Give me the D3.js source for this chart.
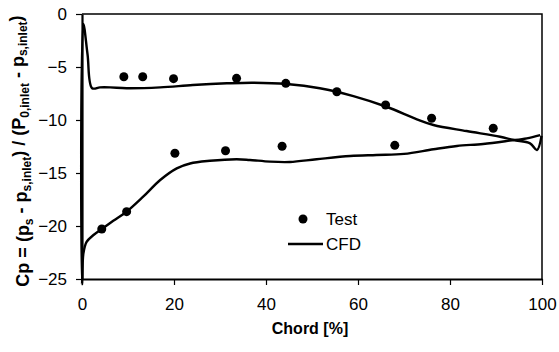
<!DOCTYPE html>
<html>
<head>
<meta charset="utf-8">
<script src="https://cdn.jsdelivr.net/npm/d3@7"></script>
<style>
  body { margin: 0; background: #fff; }
  svg { display: block; font-family: "Liberation Sans", Arial, sans-serif; }
</style>
</head>
<body>
<div id="chart"></div>
<script>
// Test data (pressure side / suction side)
const testX = [9.1, 13.2, 19.9, 33.6, 44.3, 55.4, 66.0, 76.0, 89.4,
               4.3, 9.7, 20.2, 31.2, 43.5, 68.0];
const testCp = [-5.92, -5.92, -6.1, -6.07, -6.54, -7.33, -8.58, -9.84, -10.78,
                -20.28, -18.65, -13.14, -12.9, -12.48, -12.39];

// CFD curve: trailing edge -> lower side -> leading edge -> upper side -> trailing edge
const cfdX = [99.6, 96.7, 93.0, 87.2, 81.5, 76.4, 70.0, 64.0, 58.3, 51.0, 45.2, 40.9, 36.5, 33.6,
              27.8, 23.5, 20.6, 17.0, 13.3, 9.7, 6.8, 4.3, 2.5, 1.0, 0.3, 0.0,
              0.3, 1.2, 2.2, 3.9, 6.1, 9.7, 17.0, 24.1, 31.5, 37.2, 44.5, 51.7, 59.0,
              66.2, 72.8, 76.4, 83.6, 90.9, 93.8, 97.4, 98.9, 99.9];
const cfdCp = [-11.42, -11.73, -11.95, -12.26, -12.45, -12.76, -13.2, -13.3, -13.4, -13.7, -13.96, -13.93, -13.77, -13.7,
               -13.85, -14.1, -14.56, -15.66, -17.24, -18.65, -19.5, -20.28, -20.85, -21.5, -22.6, -25.5,
               -0.94, -3.8, -7.0, -6.92, -6.92, -7.0, -6.92, -6.7, -6.54, -6.48, -6.6, -7.0, -7.74,
               -8.75, -9.93, -10.47, -11.04, -11.58, -11.89, -12.2, -12.83, -11.5];

const xTicks = [0, 20, 40, 60, 80, 100];
const yTicks = [0, -5, -10, -15, -20, -25];

const width = 559, height = 352;
const margin = { top: 14, right: 17, bottom: 73, left: 82 };
const innerWidth = width - margin.left - margin.right;
const innerHeight = height - margin.top - margin.bottom;

const svg = d3.select("#chart").append("svg")
    .attr("width", width)
    .attr("height", height);

const chart = svg.append("g")
    .attr("transform", `translate(${margin.left}, ${margin.top})`);

const xScale = d3.scaleLinear().domain([0, 100]).range([0, innerWidth]);
const yScale = d3.scaleLinear().domain([-25, 0]).range([innerHeight, 0]);

// plot frame (top and right)
chart.append("path")
    .attr("d", `M0,0H${innerWidth}V${innerHeight}`)
    .attr("fill", "none")
    .attr("stroke", "#000")
    .attr("stroke-width", 1.5);

// axes
const xAxis = chart.append("g")
    .attr("transform", `translate(0, ${innerHeight})`)
    .call(d3.axisBottom(xScale).tickValues(xTicks).tickSize(6).tickPadding(13).tickSizeOuter(0));
const yAxis = chart.append("g")
    .call(d3.axisLeft(yScale).tickValues(yTicks).tickSize(6).tickPadding(9).tickSizeOuter(0));

[xAxis, yAxis].forEach(ax => {
    ax.select(".domain").attr("stroke", "#000").attr("stroke-width", 2.2);
    ax.selectAll(".tick line").attr("stroke", "#000").attr("stroke-width", 1.2);
    ax.selectAll(".tick text")
        .attr("fill", "#000")
        .style("font-size", "17px")
        .style("font-family", "'Liberation Sans', Arial, sans-serif");
});

// CFD line
const line = d3.line()
    .x((d, i) => xScale(cfdX[i]))
    .y(d => yScale(d))
    .curve(d3.curveCatmullRom.alpha(0.5));

chart.append("path")
    .datum(cfdCp)
    .attr("d", line)
    .attr("fill", "none")
    .attr("stroke", "#000")
    .attr("stroke-width", 2.4)
    .attr("stroke-linejoin", "round");

// test points
chart.selectAll(".dot")
    .data(testCp)
    .enter().append("circle")
    .attr("class", "dot")
    .attr("cx", (d, i) => xScale(testX[i]))
    .attr("cy", d => yScale(d))
    .attr("r", 4.5)
    .attr("fill", "#000");

// legend
const legend = svg.append("g").attr("transform", "translate(288, 219)");
legend.append("circle").attr("cx", 15).attr("cy", 0).attr("r", 4.5).attr("fill", "#000");
legend.append("text").attr("x", 38).attr("y", 6).style("font-size", "17px").text("Test");
legend.append("line").attr("x1", 0).attr("x2", 35).attr("y1", 25).attr("y2", 25)
    .attr("stroke", "#000").attr("stroke-width", 2.4);
legend.append("text").attr("x", 38).attr("y", 31).style("font-size", "17px").text("CFD");

// x axis label
svg.append("text")
    .attr("text-anchor", "middle")
    .attr("x", 310)
    .attr("y", 334)
    .style("font-size", "16px")
    .style("font-weight", "bold")
    .text("Chord [%]");

// y axis label with subscripts
const ylab = svg.append("text")
    .attr("text-anchor", "middle")
    .attr("transform", "translate(29, 151) rotate(-90)")
    .style("font-size", "18px")
    .style("font-weight", "bold");
const parts = [
    ["Cp = (p", false], ["s", true], [" - p", false], ["s,inlet", true],
    [") / (P", false], ["0,inlet", true], [" - p", false], ["s,inlet", true], [")", false]
];
parts.forEach(([t, sub], i) => {
    const prevSub = i > 0 && parts[i - 1][1];
    const ts = ylab.append("tspan").text(t);
    if (sub) ts.attr("dy", "0.3em").style("font-size", "12px");
    else if (prevSub) ts.attr("dy", "-0.3em");
});
</script>
</body>
</html>
